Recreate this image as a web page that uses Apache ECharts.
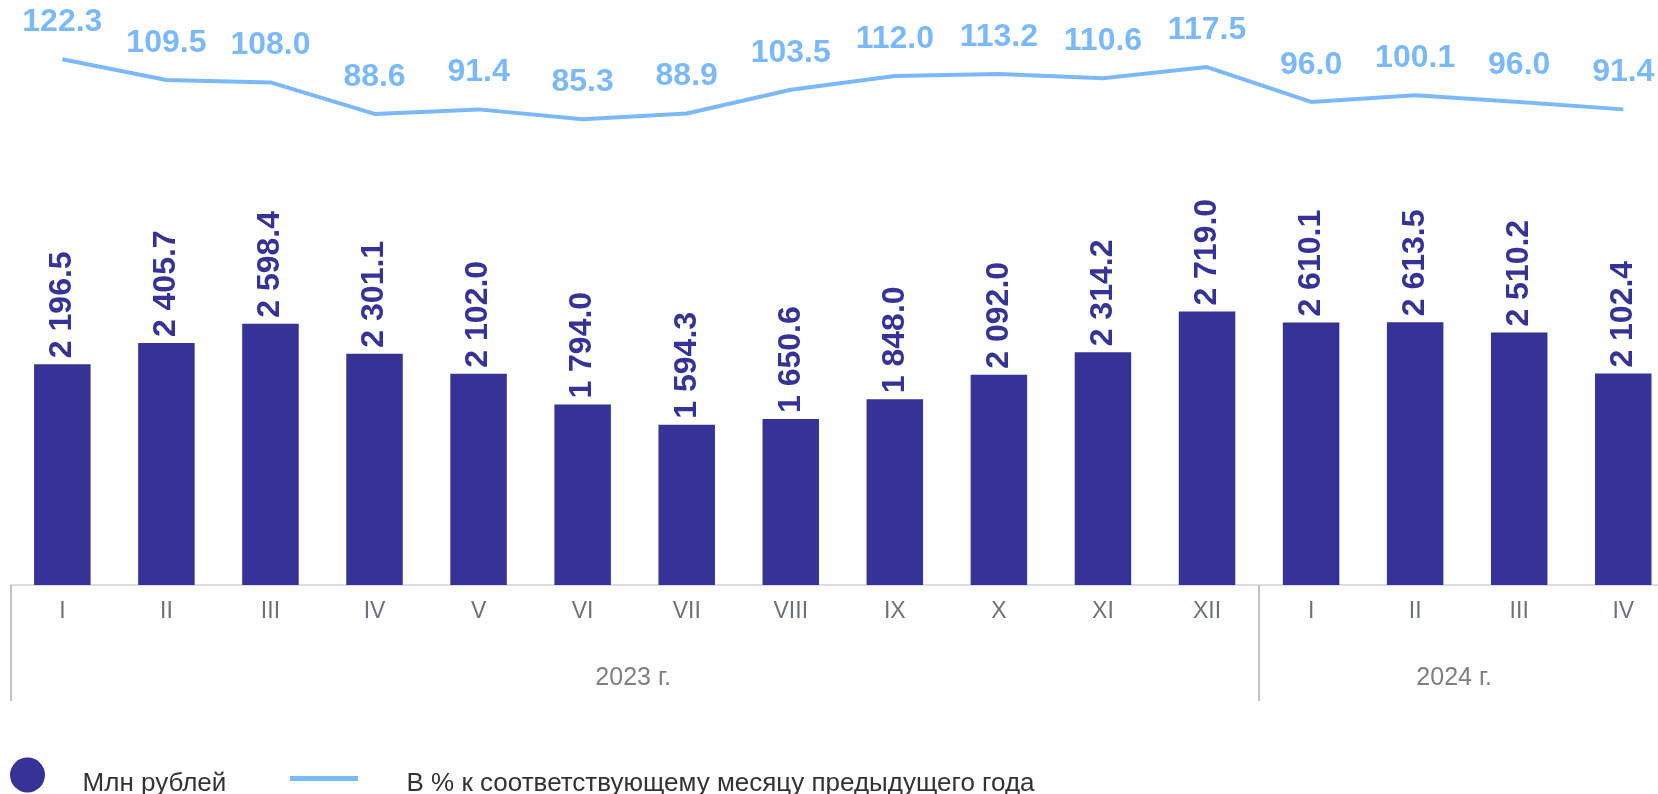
<!DOCTYPE html>
<html>
<head>
<meta charset="utf-8">
<title>Млн рублей</title>
<script src="https://cdn.jsdelivr.net/npm/echarts@6/dist/echarts.min.js"></script>
<style>
  html, body { margin: 0; padding: 0; background: #fff; }
  #chart { width: 1658px; height: 794px; }
</style>
</head>
<body>
<div id="chart"></div>
<script>
const months = ['I', 'II', 'III', 'IV', 'V', 'VI', 'VII', 'VIII', 'IX', 'X', 'XI', 'XII', 'I', 'II', 'III', 'IV'];
const yearLabels = ['', '', '', '', '', '2023 г.', '', '', '', '', '', '', '', '2024 г.', '', ''];
const amountMln = [2196.5, 2405.7, 2598.4, 2301.1, 2102.0, 1794.0, 1594.3, 1650.6, 1848.0, 2092.0, 2314.2, 2719.0, 2610.1, 2613.5, 2510.2, 2102.4];
const pctPrevYear = [122.3, 109.5, 108.0, 88.6, 91.4, 85.3, 88.9, 103.5, 112.0, 113.2, 110.6, 117.5, 96.0, 100.1, 96.0, 91.4];

const barName = 'Млн рублей';
const lineName = 'В % к соответствующему месяцу предыдущего года';

const FONT = '"Liberation Sans", Arial, sans-serif';
const BAR_COLOR = '#373396';
const LINE_COLOR = '#7cb9fc';

// "2 196.5"
function fmtAmount(v) {
  let s = v.toFixed(1).split('.');
  return s[0].replace(/\B(?=(\d{3})+(?!\d))/g, ' ') + '.' + s[1];
}

// legend text sits a bit lower than the icon centre
function legendText(lh, padLeft) {
  return {
    fontSize: 26, color: '#333', fontFamily: FONT, padding: [0, 0, 0, padLeft],
    rich: {
      s: { fontSize: 2, lineHeight: lh },
      t: { fontSize: 26, lineHeight: 26, color: '#333', fontFamily: FONT, verticalAlign: 'bottom' }
    }
  };
}

const chart = echarts.init(document.getElementById('chart'));

chart.setOption({
  animation: false,
  textStyle: { fontFamily: FONT },
  grid: {
    left: 10.3,
    top: 32,
    width: 1665,
    height: 553,
    containLabel: false,
    outerBoundsMode: 'none'
  },
  legend: [{
    data: [barName],
    left: 10,
    top: 757.5,
    padding: 0,
    icon: 'circle',
    itemWidth: 35,
    itemHeight: 35,
    selectedMode: false,
    formatter: function (name) { return '{s| }{t|' + name + '}'; },
    textStyle: legendText(43, 32)
  }, {
    data: [lineName],
    left: 290,
    top: 771,
    padding: 0,
    icon: 'rect',
    itemWidth: 68,
    itemHeight: 5,
    selectedMode: false,
    formatter: function (name) { return '{s| }{t|' + name + '}'; },
    textStyle: legendText(37, 43)
  }],
  xAxis: [{
    type: 'category',
    data: months,
    position: 'bottom',
    axisLine: { onZero: false, lineStyle: { color: '#dcdce4', width: 2 } },
    axisTick: { show: false },
    axisLabel: { interval: 0, margin: 15, fontSize: 23, color: '#6b717e', fontFamily: FONT }
  }, {
    type: 'category',
    data: months,
    position: 'bottom',
    axisLine: { show: false, onZero: false },
    axisTick: {
      show: true,
      inside: false,
      alignWithLabel: false,
      length: 116,
      interval: function (index) { return index === 0 || index === 12; },
      lineStyle: { color: '#c3c3c3', width: 2 }
    },
    axisLabel: {
      interval: 0,
      margin: 81,
      formatter: function (val, index) {
        let t = yearLabels[index];
        if (!t) return '';
        return index < 12 ? '{a|' + t + '}' : '{b|' + t + '}';
      },
      rich: {
        a: { fontSize: 25, color: '#7f7f7f', fontFamily: FONT, padding: [0, 0, 0, 101] },
        b: { fontSize: 25, color: '#7f7f7f', fontFamily: FONT, padding: [0, 0, 0, 78] }
      }
    }
  }],
  yAxis: [{
    type: 'value',
    min: 0,
    max: 5500,
    show: false,
    splitLine: { show: false }
  }, {
    type: 'value',
    min: -201.8,
    max: 139.1,
    show: false,
    splitLine: { show: false }
  }],
  series: [{
    name: barName,
    type: 'bar',
    data: amountMln,
    barWidth: 56.5,
    itemStyle: { color: BAR_COLOR },
    label: {
      show: true,
      position: 'top',
      rotate: 90,
      align: 'left',
      verticalAlign: 'middle',
      distance: 6,
      fontSize: 32,
      fontWeight: 'bold',
      color: BAR_COLOR,
      fontFamily: FONT,
      formatter: function (p) { return fmtAmount(p.value); }
    }
  }, {
    name: lineName,
    type: 'line',
    yAxisIndex: 1,
    data: pctPrevYear,
    symbol: 'circle',
    symbolSize: 0,
    itemStyle: { color: LINE_COLOR },
    lineStyle: { color: LINE_COLOR, width: 4 },
    label: {
      show: true,
      position: 'top',
      distance: 21,
      fontSize: 32,
      fontWeight: 'bold',
      color: LINE_COLOR,
      fontFamily: FONT,
      formatter: function (p) { return p.value.toFixed(1); }
    }
  }]
});
</script>
</body>
</html>
